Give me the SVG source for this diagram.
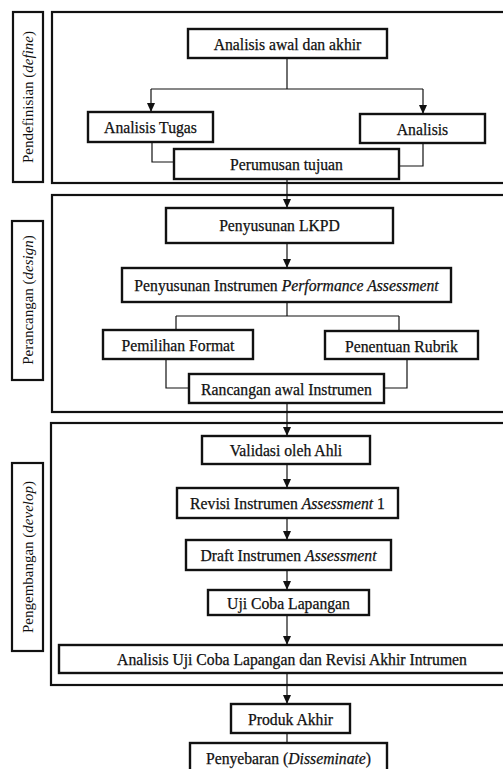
<svg xmlns="http://www.w3.org/2000/svg" width="503" height="769" viewBox="0 0 503 769">
<style>
.frame{fill:none;stroke:#111;stroke-width:2.2}
.box{fill:#fff;stroke:#111;stroke-width:2.4}
.lab{fill:#fff;stroke:#111;stroke-width:2.2}
.t{font-family:"Liberation Serif","Times New Roman",serif;font-size:15.7px;fill:#111;stroke:#111;stroke-width:0.25;text-anchor:middle;dominant-baseline:central}
.s{font-family:"Liberation Serif","Times New Roman",serif;font-size:15px;fill:#111;text-anchor:middle;dominant-baseline:central}
.c{fill:none;stroke:#111;stroke-width:1.2}
.a{marker-end:url(#ah)}
</style>
<defs>
<marker id="ah" markerUnits="userSpaceOnUse" markerWidth="9" markerHeight="8" refX="9" refY="4" orient="auto" viewBox="0 0 9 8">
<path d="M0,0 L9,4 L0,8 Z" fill="#111"/>
</marker>
</defs>
<rect width="503" height="769" fill="#fff"/>
<g id="frames">
<rect class="frame" x="52" y="12" width="460" height="171"/>
<rect class="frame" x="52" y="195" width="460" height="217"/>
<rect class="frame" x="51" y="423" width="461" height="262"/>
</g>
<g id="lab-define"><rect class="lab" x="13" y="12" width="30" height="170"/><text class="s" transform="translate(28 97) rotate(-90)">Pendefinisian (<tspan font-style="italic">define</tspan>)</text></g>
<g id="lab-design"><rect class="lab" x="12" y="221" width="31" height="159"/><text class="s" transform="translate(28 300) rotate(-90)">Perancangan (<tspan font-style="italic">design</tspan>)</text></g>
<g id="lab-develop"><rect class="lab" x="12" y="463" width="31" height="188"/><text class="s" transform="translate(28 557) rotate(-90)">Pengembangan (<tspan font-style="italic">develop</tspan>)</text></g>
<g id="connectors">
<path class="c" d="M287,58 V89 M151,89 H423"/>
<path class="c a" d="M151,89 V112"/>
<path class="c a" d="M423,89 V114"/>
<path class="c" d="M152,142 V162 H174 M423,143 V166 H399"/>
<path class="c a" d="M287,179 V208"/>
<path class="c a" d="M287,243 V268"/>
<path class="c" d="M287,302 V316 M176,316 H399 M176,316 V330 M399,316 V331"/>
<path class="c" d="M166,359 V388 H189 M407,359 V388 H384"/>
<path class="c a" d="M287,403 V436"/>
<path class="c a" d="M287,464 V488"/>
<path class="c a" d="M287,518 V540"/>
<path class="c a" d="M287,570 V590"/>
<path class="c a" d="M287,615 V645"/>
<path class="c a" d="M287,673 V704"/>
<path class="c" d="M287,733 V743"/>
</g>
<g id="n1"><rect class="box" x="188" y="29" width="199" height="29"/><text class="t" x="287.5" y="44">Analisis awal dan akhir</text></g>
<g id="n2"><rect class="box" x="88" y="112" width="125" height="30"/><text class="t" x="150.5" y="127">Analisis Tugas</text></g>
<g id="n3"><rect class="box" x="360" y="114" width="125" height="29"/><text class="t" x="422.5" y="129">Analisis</text></g>
<g id="n4"><rect class="box" x="174" y="149" width="225" height="30"/><text class="t" x="286.5" y="164">Perumusan tujuan</text></g>
<g id="n5"><rect class="box" x="166" y="208" width="227" height="35"/><text class="t" x="279.5" y="225">Penyusunan LKPD</text></g>
<g id="n6"><rect class="box" x="122" y="268" width="329" height="34"/><text class="t" x="286.5" y="285">Penyusunan Instrumen <tspan font-style="italic">Performance Assessment</tspan></text></g>
<g id="n7"><rect class="box" x="103" y="330" width="150" height="29"/><text class="t" x="178" y="345">Pemilihan Format</text></g>
<g id="n8"><rect class="box" x="325" y="331" width="153" height="28"/><text class="t" x="401.5" y="346">Penentuan Rubrik</text></g>
<g id="n9"><rect class="box" x="189" y="374" width="195" height="29"/><text class="t" x="286.5" y="389">Rancangan awal Instrumen</text></g>
<g id="n10"><rect class="box" x="202" y="436" width="168" height="28"/><text class="t" x="286" y="450">Validasi oleh Ahli</text></g>
<g id="n11"><rect class="box" x="177" y="488" width="221" height="30"/><text class="t" x="287.5" y="503">Revisi Instrumen <tspan font-style="italic">Assessment</tspan> 1</text></g>
<g id="n12"><rect class="box" x="186" y="540" width="205" height="30"/><text class="t" x="288.5" y="555">Draft Instrumen <tspan font-style="italic">Assessment</tspan></text></g>
<g id="n13"><rect class="box" x="208" y="590" width="161" height="25"/><text class="t" x="288.5" y="603">Uji Coba Lapangan</text></g>
<g id="n14"><rect class="box" x="59" y="645" width="455" height="28"/><text class="t" x="292" y="659">Analisis Uji Coba Lapangan dan Revisi Akhir Intrumen</text></g>
<g id="n15"><rect class="box" x="231" y="704" width="119" height="29"/><text class="t" x="290.5" y="719">Produk Akhir</text></g>
<g id="n16"><rect class="box" x="190" y="743" width="197" height="32"/><text class="t" x="288.5" y="758">Penyebaran (<tspan font-style="italic">Disseminate</tspan>)</text></g>
</svg>
